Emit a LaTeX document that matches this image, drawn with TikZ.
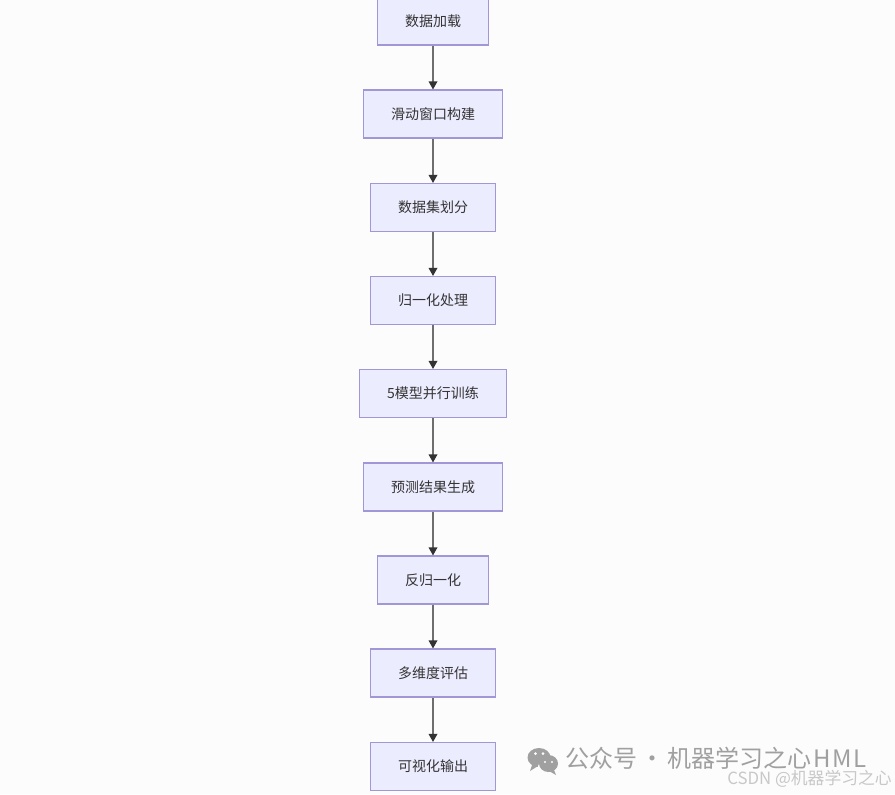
\documentclass[tikz,border=0pt]{standalone}
\usepackage{fontspec}
\setmainfont{Noto Sans CJK SC}
\usetikzlibrary{arrows.meta}
\definecolor{pagebg}{HTML}{FCFCFC}
\definecolor{boxfill}{HTML}{ECECFF}
\definecolor{boxline}{HTML}{A196D6}
\definecolor{inkdark}{HTML}{333333}
\definecolor{flowgray}{HTML}{6E6E6E}
\definecolor{markgray}{HTML}{A0A0A0}
\definecolor{marklight}{HTML}{C8C8C8}
\tikzset{
  stepbox/.style={draw=boxline,fill=boxfill,line width=0.85pt,text=inkdark,font=\fontsize{10.5}{12}\selectfont,minimum height=36pt,inner sep=0pt},
  flow/.style={draw=flowgray,line width=0.9pt,-{Triangle[length=6pt,width=6.5pt,color=inkdark]}},
}
\begin{document}
\begin{tikzpicture}[x=0.75pt,y=-0.75pt]
\path[use as bounding box,fill=pagebg] (0,0) rectangle (895,794);
\clip (0,0) rectangle (895,794);
\foreach \i/\ypos/\wid/\txt in {1/21/111/数据加载,2/114/139/滑动窗口构建,3/207.5/125/数据集划分,4/300.5/125/归一化处理,5/393.5/147/5模型并行训练,6/487/139/预测结果生成,7/580/111/反归一化,8/673/125/多维度评估,9/766.5/125/可视化输出} {
  \node[stepbox,minimum width=\wid*0.75pt] (n\i) at (433,\ypos) {\txt};
}
\foreach \i [evaluate=\i as \j using int(\i+1)] in {1,...,8} {
  \draw[flow] (n\i) -- (n\j);
}
% watermark
\fill[markgray] (539,757.5) ellipse (11.5 and 9.5);
\fill[markgray] (532,765) -- (530,771) -- (538,766) -- cycle;
\fill[pagebg] (548.5,769) ellipse (11 and 10);
\fill[markgray] (548.5,763.5) ellipse (9.5 and 8.5);
\fill[markgray] (554,770) -- (556,775) -- (549,771) -- cycle;
\fill[pagebg] (535.5,753.5) circle (1.5) (543,753.5) circle (1.5) (545,762) circle (1.2) (552,762) circle (1.2);
\node[text=markgray,font=\fontsize{18}{20}\selectfont,anchor=west,inner sep=0pt] (wechat) at (565,758.5) {公众号\makebox[22.5pt]{·}机器学习之心\kern2pt H\kern1pt M\kern1pt L};
\node[text=marklight,font=\fontsize{12.6}{14}\selectfont,anchor=east,inner sep=0pt] (csdn) at (892,779) {CSDN @机器学习之心};
\end{tikzpicture}
\end{document}
